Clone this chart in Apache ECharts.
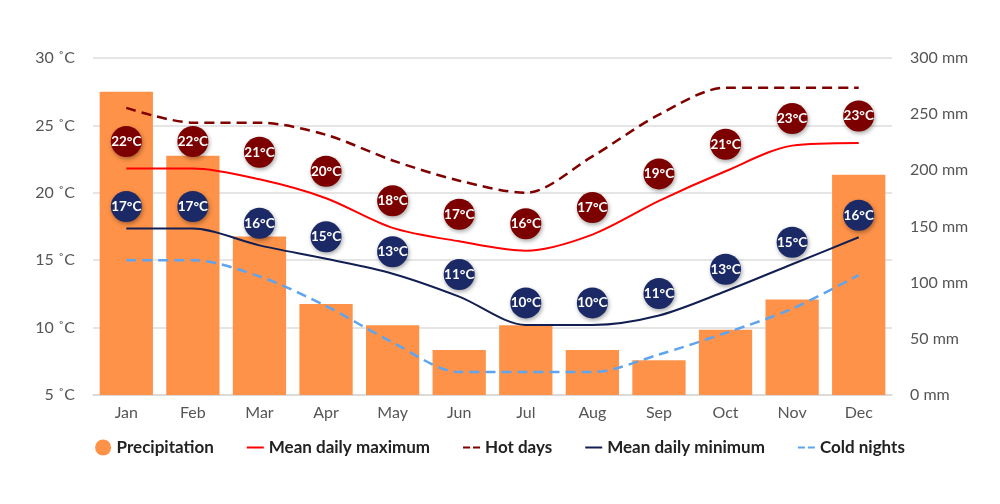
<!DOCTYPE html>
<html>
<head>
<meta charset="utf-8">
<script src="https://cdn.jsdelivr.net/npm/echarts@6/dist/echarts.min.js"></script>
<style>
  html, body { margin: 0; padding: 0; background: #fff; }
  #chart { width: 1000px; height: 504px; }
</style>
</head>
<body>
<div id="chart"></div>
<script>
var months = ['Jan', 'Feb', 'Mar', 'Apr', 'May', 'Jun', 'Jul', 'Aug', 'Sep', 'Oct', 'Nov', 'Dec'];
var precipitation = [270, 213, 141, 81, 62, 40, 62, 40, 31, 58, 85, 196];
var meanMax = [21.8, 21.8, 21.0, 19.6, 17.4, 16.4, 15.7, 16.9, 19.4, 21.6, 23.5, 23.7];
var hotDays = [26.3, 25.2, 25.2, 24.3, 22.4, 20.9, 20.0, 22.7, 25.8, 27.8, 27.8, 27.8];
var meanMin = [17.35, 17.35, 16.1, 15.1, 14.0, 12.3, 10.2, 10.2, 10.9, 12.7, 14.7, 16.7];
var coldNights = [15.0, 15.0, 13.8, 11.6, 8.9, 6.7, 6.7, 6.7, 8.0, 9.6, 11.4, 13.9];
var maxLabels = [22, 22, 21, 20, 18, 17, 16, 17, 19, 21, 23, 23];
var minLabels = [17, 17, 16, 15, 13, 11, 10, 10, 11, 13, 15, 16];

var chart = echarts.init(document.getElementById('chart'));
var font = 'Lato, "Open Sans", sans-serif';

function circleSeries(values, labels, color, offset) {
  return {
    type: 'scatter',
    yAxisIndex: 0,
    data: values,
    symbol: 'circle',
    symbolSize: 31,
    symbolOffset: [0, offset],
    z: 10,
    silent: true,
    itemStyle: {
      color: color,
      opacity: 1,
      shadowColor: 'rgba(0,0,0,0.35)',
      shadowBlur: 4,
      shadowOffsetX: 1,
      shadowOffsetY: 2
    },
    label: {
      show: true,
      position: 'inside',
      color: '#fff',
      fontFamily: font,
      fontSize: 13.5,
      fontWeight: 'bold',
      formatter: function (p) { return labels[p.dataIndex] + '°C'; }
    }
  };
}

// legend entry for a line: hide the symbol, keep the line (optionally dashed)
function lineLegend(name, dashed) {
  var item = { name: name, itemStyle: { opacity: 0 } };
  if (dashed) {
    item.lineStyle = { type: [7, 3] };
  }
  return item;
}

var option = {
  animation: false,
  textStyle: { fontFamily: font },
  grid: { left: 93, right: 108, top: 58, bottom: 109 },
  legend: {
    bottom: 43,
    left: 'center',
    itemGap: 32,
    itemWidth: 17,
    itemHeight: 16,
    textStyle: { fontFamily: font, fontSize: 17, fontWeight: 'bold', color: '#222' },
    data: [
      { name: 'Precipitation', icon: 'circle' },
      lineLegend('Mean daily maximum', false),
      lineLegend('Hot days', true),
      lineLegend('Mean daily minimum', false),
      lineLegend('Cold nights', true)
    ]
  },
  xAxis: {
    type: 'category',
    data: months,
    axisTick: { show: false },
    axisLine: { lineStyle: { color: '#d6d6d6', width: 1.5 } },
    axisLabel: { color: '#555', fontSize: 16, fontFamily: font, margin: 10 }
  },
  yAxis: [
    {
      type: 'value',
      min: 5,
      max: 30,
      interval: 5,
      axisLine: { show: false },
      axisTick: { show: false },
      splitLine: { lineStyle: { color: '#dcdcdc', width: 1.5 } },
      axisLabel: {
        color: '#555', fontSize: 16, fontFamily: font, margin: 18,
        formatter: function (v) { return v + ' ˚C'; }
      }
    },
    {
      type: 'value',
      min: 0,
      max: 300,
      interval: 50,
      axisLine: { show: false },
      axisTick: { show: false },
      splitLine: { show: false },
      axisLabel: {
        color: '#555', fontSize: 16, fontFamily: font, margin: 18,
        formatter: function (v) { return v + ' mm'; }
      }
    }
  ],
  series: [
    {
      name: 'Precipitation',
      type: 'bar',
      yAxisIndex: 1,
      data: precipitation,
      barCategoryGap: '20%',
      itemStyle: { color: '#fe9248' }
    },
    {
      name: 'Mean daily maximum',
      type: 'line',
      data: meanMax,
      smooth: 0.3,
      symbol: 'none',
      lineStyle: { color: '#ff0000', width: 2 },
      itemStyle: { color: '#ff0000' }
    },
    {
      name: 'Hot days',
      type: 'line',
      data: hotDays,
      smooth: 0.3,
      symbol: 'none',
      lineStyle: { color: '#800000', width: 2.5, type: [10, 6] },
      itemStyle: { color: '#800000' }
    },
    {
      name: 'Mean daily minimum',
      type: 'line',
      data: meanMin,
      smooth: 0.3,
      symbol: 'none',
      lineStyle: { color: '#121f52', width: 2 },
      itemStyle: { color: '#121f52' }
    },
    {
      name: 'Cold nights',
      type: 'line',
      data: coldNights,
      smooth: 0.3,
      symbol: 'none',
      lineStyle: { color: '#5ea4ee', width: 2.5, type: [10, 6] },
      itemStyle: { color: '#5ea4ee' }
    },
    circleSeries(meanMax, maxLabels, '#7d0000', -27),
    circleSeries(meanMin, minLabels, '#1b2a66', -22)
  ]
};

chart.setOption(option);

window.addEventListener('resize', function () {
  chart.resize();
});
</script>
</body>
</html>
